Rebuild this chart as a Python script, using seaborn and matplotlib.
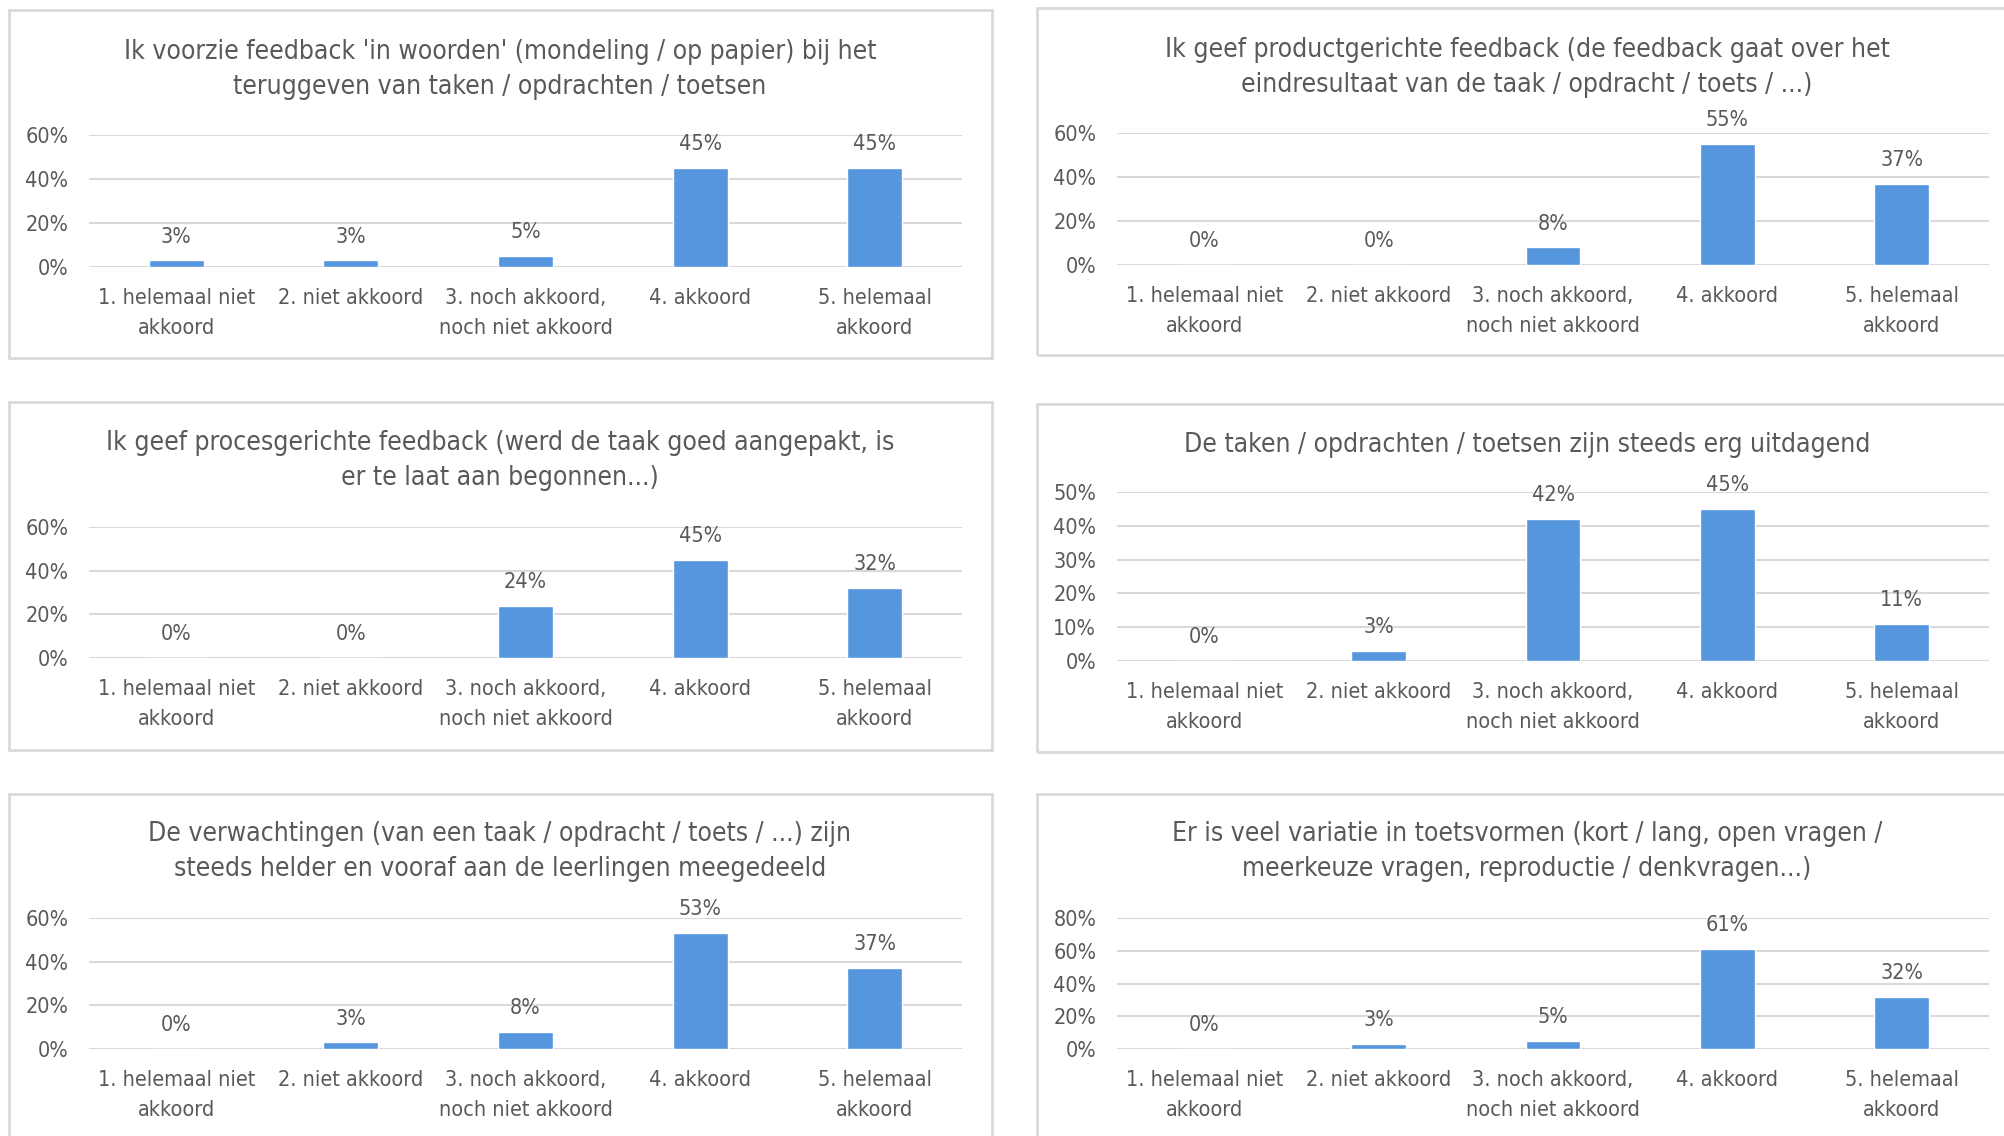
import matplotlib
matplotlib.use("Agg")
import matplotlib.pyplot as plt
import matplotlib.patches as patches
from matplotlib.ticker import FuncFormatter, MultipleLocator
import pandas as pd
import seaborn as sns

sns.set_theme(style="white")
plt.rcParams['font.family'] = ['DejaVu Sans']
plt.rcParams['font.stretch'] = 'condensed'

# answer categories (x axis)
categories = [
    "1. helemaal niet\nakkoord",
    "2. niet akkoord",
    "3. noch akkoord,\nnoch niet akkoord",
    "4. akkoord",
    "5. helemaal\nakkoord",
]

# chart titles
titles = [
    "Ik voorzie feedback 'in woorden' (mondeling / op papier) bij het\nteruggeven van taken / opdrachten / toetsen",
    "Ik geef productgerichte feedback (de feedback gaat over het\neindresultaat van de taak / opdracht / toets / ...)",
    "Ik geef procesgerichte feedback (werd de taak goed aangepakt, is\ner te laat aan begonnen...)",
    "De taken / opdrachten / toetsen zijn steeds erg uitdagend",
    "De verwachtingen (van een taak / opdracht / toets / ...) zijn\nsteeds helder en vooraf aan de leerlingen meegedeeld",
    "Er is veel variatie in toetsvormen (kort / lang, open vragen /\nmeerkeuze vragen, reproductie / denkvragen...)",
]

# percentages per chart
woorden = [3, 3, 5, 45, 45]
product = [0, 0, 8, 55, 37]
proces = [0, 0, 24, 45, 32]
uitdagend = [0, 3, 42, 45, 11]
verwachtingen = [0, 3, 8, 53, 37]
variatie = [0, 3, 5, 61, 32]
series = [woorden, product, proces, uitdagend, verwachtingen, variatie]

# y axis range / step per chart
y_max = [60, 60, 60, 50, 60, 80]
y_step = [20, 20, 20, 10, 20, 20]

W, H = 2004, 1136
fig = plt.figure(figsize=(W / 100, H / 100), dpi=100)

bar_col = "#5596DE"
txt_col = "#595959"
grid_col = "#D9D9D9"

# panel frames (pixels: x0, y0, x1, y1)
frames = [
    (9, 10, 992, 358),
    (1037, 8, 2030, 355),
    (9, 402, 992, 750),
    (1037, 404, 2030, 752),
    (9, 794, 992, 1150),
    (1037, 794, 2030, 1150),
]
# plot areas (pixels: left, right, y of top tick, y of 0)
areas = [
    (89, 962, 135, 267),
    (1117, 1989, 133, 265),
    (89, 962, 527, 658),
    (1117, 1989, 492, 661),
    (89, 962, 918, 1049),
    (1117, 1989, 918, 1049),
]
title_y = [39, 37, 430, 432, 821, 821]
title_x = [500, 1527, 500, 1527, 500, 1527]

for i in range(6):
    fx0, fy0, fx1, fy1 = frames[i]
    fig.patches.append(patches.Rectangle(
        (fx0 / W, 1 - fy1 / H), (fx1 - fx0) / W, (fy1 - fy0) / H,
        transform=fig.transFigure, fill=False, edgecolor=grid_col, linewidth=2))

    l, r, yt, y0 = areas[i]
    ax = fig.add_axes([l / W, 1 - y0 / H, (r - l) / W, (y0 - yt) / H])
    df = pd.DataFrame({"cat": categories, "pct": series[i]})
    sns.barplot(data=df, x="cat", y="pct", color=bar_col, saturation=1,
                width=0.315, ax=ax)
    ax.set_ylim(0, y_max[i])
    ax.set_xlim(-0.5, 4.5)
    ax.yaxis.set_major_locator(MultipleLocator(y_step[i]))
    ax.yaxis.set_major_formatter(FuncFormatter(lambda v, p: f"{v:.0f}%"))
    ax.grid(axis="y", color=grid_col, linewidth=1.5)
    ax.set_axisbelow(True)
    for s in ax.spines.values():
        s.set_visible(False)
    ax.set_xlabel("")
    ax.set_ylabel("")
    ax.tick_params(axis="both", length=0, labelsize=15.5, colors=txt_col)
    ax.tick_params(axis="x", pad=15)
    ax.tick_params(axis="y", pad=15)
    for lab in ax.get_xticklabels():
        lab.set_linespacing(1.65)
    for j, v in enumerate(series[i]):
        ax.annotate(f"{v}%", (j, v), xytext=(0, 10), textcoords="offset points",
                    ha="center", va="bottom", fontsize=15.5, color=txt_col,
                    annotation_clip=False)

    fig.text(title_x[i] / W, 1 - title_y[i] / H, titles[i], ha="center",
             va="top", fontsize=19, color=txt_col, linespacing=1.45)

fig.savefig("out.png", dpi=100, facecolor="white")
